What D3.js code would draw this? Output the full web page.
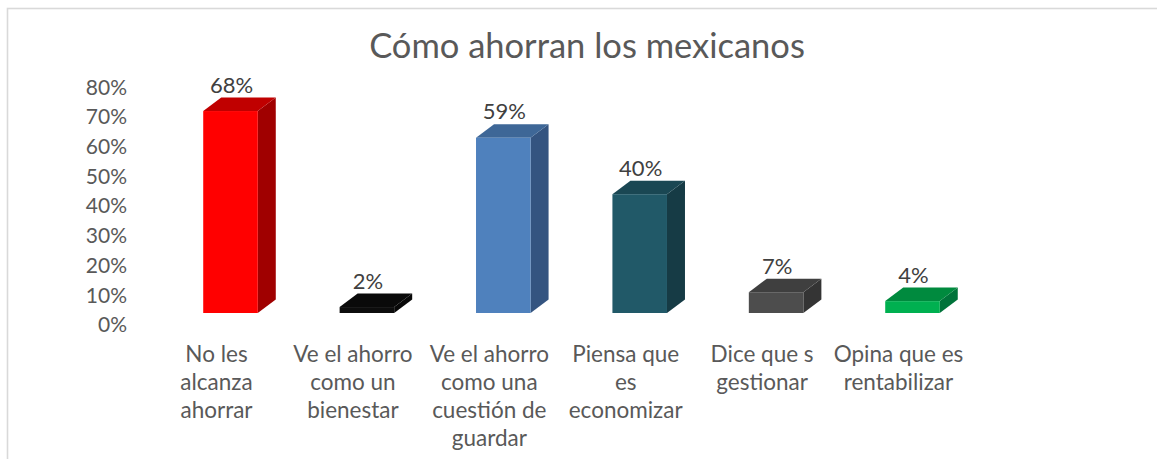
<!DOCTYPE html>
<html>
<head>
<meta charset="utf-8">
<script src="https://cdn.jsdelivr.net/npm/d3@7"></script>
<style>
  html, body { margin: 0; padding: 0; background: #fff; }
  svg { display: block; }
  text { font-family: Lato, "Open Sans", sans-serif; }
</style>
</head>
<body>
<svg id="chart" width="1157" height="459"></svg>
<script>
// Survey answers: how Mexicans save
const categories = [
  "No les\nalcanza\nahorrar",
  "Ve el ahorro\ncomo un\nbienestar",
  "Ve el ahorro\ncomo una\ncuestión de\nguardar",
  "Piensa que\nes\neconomizar",
  "Dice que s\ngestionar",
  "Opina que es\nrentabilizar"
];
const values = [0.68, 0.02, 0.59, 0.40, 0.07, 0.04];
const tickValues = [0, 0.1, 0.2, 0.3, 0.4, 0.5, 0.6, 0.7, 0.8];
const title = "Cómo ahorran los mexicanos";

// front, top and side face colours for each column
const frontColors = ["#FF0000", "#0D0D0D", "#4F81BD", "#215968", "#4D4D4D", "#00B050"];
const topColors   = ["#C00000", "#0A0A0A", "#3E6797", "#1A4753", "#3F3F3F", "#008A3E"];
const sideColors  = ["#A00000", "#080808", "#345480", "#163B45", "#343434", "#00733A"];

const svg = d3.select("#chart");

// chart area frame
svg.append("rect")
  .attr("x", 7.5).attr("y", 8.5)
  .attr("width", 1200).attr("height", 500)
  .attr("fill", "none")
  .attr("stroke", "#D9D9D9")
  .attr("stroke-width", 1.6);

// perspective offset of the column depth
const depthX = 18, depthY = 13.5;

const x = d3.scaleBand()
  .domain(categories)
  .range([162.3, 980.7])
  .paddingInner(0.6)
  .paddingOuter(0.3);

const y = d3.scaleLinear()
  .domain([0, 0.8])
  .range([313, 313 - 237.6]);

// value axis sits on the back wall, lower than the column fronts
const yWall = y.copy().range(y.range().map(r => r + 12));

const axis = d3.axisLeft(yWall)
  .tickValues(tickValues)
  .tickFormat(d3.format(".0%"))
  .tickSize(0)
  .tickPadding(0);

const axisG = svg.append("g")
  .attr("transform", "translate(127,0)")
  .call(axis);
axisG.select(".domain").remove();
axisG.selectAll("text")
  .attr("fill", "#595959")
  .style("font-size", "21px")
  .style("font-family", "Lato, 'Open Sans', sans-serif");

// 3D columns
const bars = svg.append("g").selectAll("g")
  .data(categories.map((c, i) => ({ c, v: values[i], i })))
  .join("g");

bars.append("polygon")
  .attr("points", d => {
    const x0 = x(d.c), w = x.bandwidth(), y0 = y(0), yv = y(d.v);
    return [[x0 + w, yv], [x0 + w + depthX, yv - depthY], [x0 + w + depthX, y0 - depthY], [x0 + w, y0]].join(" ");
  })
  .attr("fill", d => sideColors[d.i]);

bars.append("polygon")
  .attr("points", d => {
    const x0 = x(d.c), w = x.bandwidth(), yv = y(d.v);
    return [[x0, yv], [x0 + depthX, yv - depthY], [x0 + w + depthX, yv - depthY], [x0 + w, yv]].join(" ");
  })
  .attr("fill", d => topColors[d.i]);

bars.append("rect")
  .attr("x", d => x(d.c))
  .attr("y", d => y(d.v))
  .attr("width", x.bandwidth())
  .attr("height", d => y(0) - y(d.v))
  .attr("fill", d => frontColors[d.i]);

// value labels
bars.append("text")
  .attr("x", d => x(d.c) + x.bandwidth() / 2 + 1)
  .attr("y", d => y(d.v) - depthY - 5)
  .attr("text-anchor", "middle")
  .attr("fill", "#404040")
  .style("font-size", "22px")
  .text(d => d3.format(".0%")(d.v));

// category labels
const catG = svg.append("g").selectAll("text")
  .data(categories)
  .join("text")
  .attr("x", d => x(d) + x.bandwidth() / 2 - 14)
  .attr("y", 362)
  .attr("text-anchor", "middle")
  .attr("fill", "#595959")
  .style("font-size", "22.5px");
catG.selectAll("tspan")
  .data(d => d.split("\n"))
  .join("tspan")
  .attr("x", function() { return this.parentNode.getAttribute("x"); })
  .attr("dy", (d, i) => i === 0 ? 0 : 28)
  .text(d => d);

// title
svg.append("text")
  .attr("x", 587)
  .attr("y", 58)
  .attr("text-anchor", "middle")
  .attr("fill", "#595959")
  .style("font-size", "34.5px")
  .text(title);
</script>
</body>
</html>
